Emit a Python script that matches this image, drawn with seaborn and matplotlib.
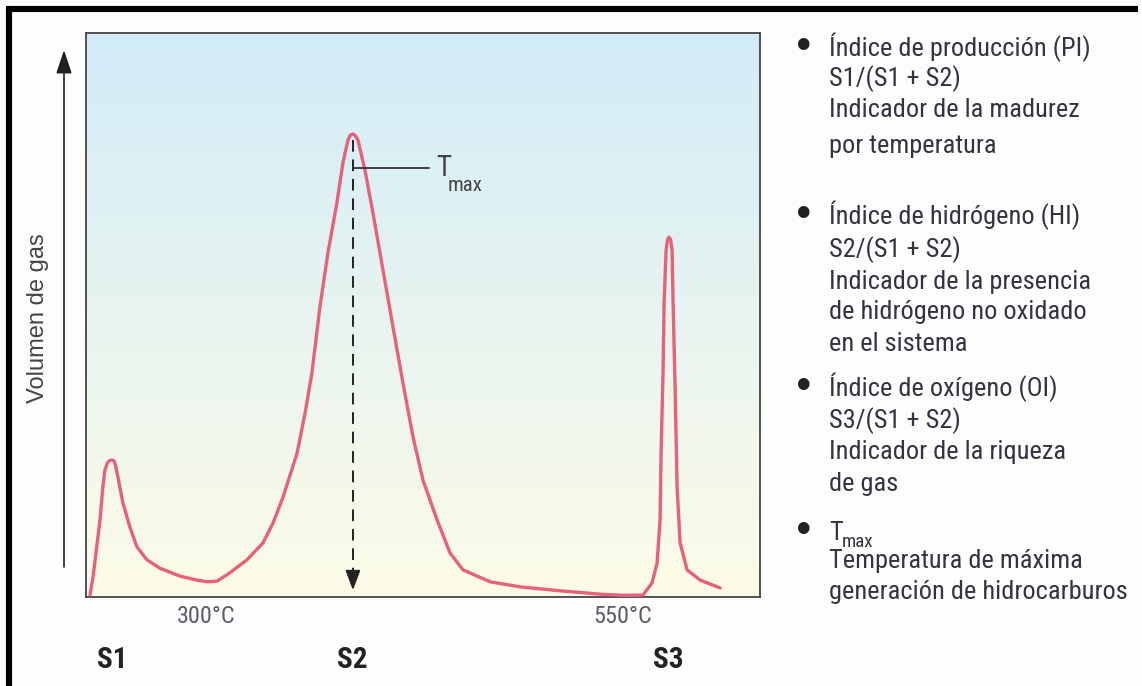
import numpy as np
import pandas as pd
import matplotlib
matplotlib.use('Agg')
import matplotlib.pyplot as plt
import seaborn as sns
from matplotlib import font_manager
from matplotlib.lines import Line2D
from matplotlib.transforms import blended_transform_factory

# pyrolysis curve (temperature in C, gas volume in % of frame)
temp_c = [230.5, 232.3, 236.5, 238.2, 239.4, 241.2, 242.4, 243.6, 244.6, 245.4, 247.2, 250.2,
          254.4, 258.6, 264.6, 272.4, 284.4, 294.6, 300.6, 306.6, 314.4, 324.6,
          334.2, 340.2, 346.2, 354.6, 359.4, 363.5, 368.3, 373.1, 378.5, 382.1,
          385.1, 386.6, 388.1, 389.6, 391.1, 395.3, 400.1, 406.1, 412.1, 418.1, 424.1, 430.1,
          438.5, 446.3, 454.1, 470.3, 488.2, 512.2, 536.2, 550.0, 562.0, 567.4,
          570.4, 572.2, 572.8, 574.0, 574.6, 575.8, 576.7, 577.6, 578.5, 579.4, 580.0, 581.2,
          582.4, 584.2, 588.4, 596.2, 608.2]
volume = [0.4, 3.5, 13.7, 19.5, 22.5, 23.9, 24.2, 24.3, 24.2, 23.8, 21.3, 16.7,
          12.4, 8.9, 6.6, 5.1, 3.7, 3.0, 2.7, 2.8, 4.3, 6.6,
          9.6, 13.1, 17.7, 25.5, 32.6, 39.7, 51.4, 61.0, 69.9, 77.0,
          81.0, 81.9, 82.1, 81.8, 81.0, 75.7, 68.1, 58.0, 47.9, 37.9, 28.4, 20.7,
          13.7, 7.8, 4.8, 2.7, 1.8, 1.1, 0.5, 0.3, 0.35, 2.5,
          6.0, 13.7, 25.5, 40.2, 52.1, 61.5, 63.4, 63.8, 63.4, 61.5, 52.1, 37.2,
          19.5, 9.6, 4.8, 3.0, 1.6]

tick_temps = [300, 550]
tick_labels = ['300°C', '550°C']
peak_names = ['S1', 'S2', 'S3']
peak_temps = [243.6, 387.5, 577.0]
tmax_temp = 388.1
tmax_level = 76.0

info_lines = ['Índice de producción (PI)', 'S1/(S1 + S2)', 'Indicador de la madurez', 'por temperatura',
              'Índice de hidrógeno (HI)', 'S2/(S1 + S2)', 'Indicador de la presencia',
              'de hidrógeno no oxidado', 'en el sistema',
              'Índice de oxígeno (OI)', 'S3/(S1 + S2)', 'Indicador de la riqueza', 'de gas',
              'Temperatura de máxima', 'generación de hidrocarburos']
info_y = [56, 86, 117, 153, 224, 257, 289, 319, 351, 396, 428, 459, 491, 568, 599]
bullet_y = [56, 224, 396, 540]

sns.set_style('white')
names = {f.name for f in font_manager.fontManager.ttflist}
cond = [n for n in ['Roboto Condensed', 'Liberation Sans Narrow', 'Open Sans Condensed']
        if n in names]
if cond:
    main_font, k = cond[0], 1.0
else:
    main_font, k = 'Liberation Sans', 0.89
plt.rcParams['font.family'] = [main_font, 'DejaVu Sans']

W, H = 1142, 686
fig = plt.figure(figsize=(W / 100, H / 100), dpi=100)
fig.patch.set_facecolor('#fdfdfd')

ax = fig.add_axes([86 / W, 89 / H, 674 / W, 564 / H])
xmin, xmax = 228.1, 632.1

# background gradient, light blue at top to pale yellow at bottom
top = np.array([210, 236, 248]) / 255
bot = np.array([253, 252, 232]) / 255
g = np.linspace(0, 1, 256)[:, None, None]
img = top + (bot - top) * g
ax.imshow(img, extent=[xmin, xmax, 0, 100], aspect='auto', origin='upper', zorder=0)

df = pd.DataFrame({'temp': temp_c, 'vol': volume})
sns.lineplot(data=df, x='temp', y='vol', color='#e8607a', lw=2.4, sort=False,
             estimator=None, ax=ax, zorder=3)
ax.lines[-1].set_solid_joinstyle('round')

# Tmax marker
ax.plot([tmax_temp, tmax_temp], [81.0, 4.5], ls=(0, (6, 4)), color='#222', lw=1.4, zorder=4)
ax.annotate('', xy=(tmax_temp, 1.2), xytext=(tmax_temp, 5.0),
            arrowprops=dict(arrowstyle='-|>,head_length=0.8,head_width=0.3', mutation_scale=15,
                            color='#222', lw=1.4, shrinkA=0, shrinkB=0), zorder=4)
ax.plot([tmax_temp, 433.5], [tmax_level, tmax_level], color='#333', lw=1.3, zorder=4)
ax.text(438.0, tmax_level, 'T', fontsize=21 * k, va='center', ha='left', color='#444')
ax.text(445.0, tmax_level - 3.0, 'max', fontsize=15 * k, va='center', ha='left', color='#444')

ax.set_xlim(xmin, xmax)
ax.set_ylim(0, 100)
ax.set_xticks(tick_temps, tick_labels)
ax.set_yticks([])
ax.tick_params(axis='x', direction='in', length=7, width=1.3, color='#333',
               labelsize=17.5 * k, labelcolor='#5a5e6a', pad=6)
ax.set_xlabel('')
ax.set_ylabel('')
for sp in ax.spines.values():
    sp.set_visible(True)
    sp.set_color('#444')
    sp.set_linewidth(1.3)

# S1 / S2 / S3 labels under the axis
tr = blended_transform_factory(ax.transData, fig.transFigure)
for name, t in zip(peak_names, peak_temps):
    ax.text(t, 1 - 660 / H, name, transform=tr, ha='center', va='center',
            fontsize=21 * k, fontweight='bold', color='#222')

# y arrow and label
ax.annotate('', xy=(64 / W, 1 - 50 / H), xytext=(64 / W, 1 - 567 / H),
            xycoords='figure fraction', textcoords='figure fraction',
            arrowprops=dict(arrowstyle='-|>,head_length=0.9,head_width=0.3', mutation_scale=16,
                            color='#222', lw=1.2, shrinkA=0, shrinkB=0),
            annotation_clip=False)
fig.text(38 / W, 1 - 318 / H, 'Volumen de gas', rotation=90, ha='center', va='center',
         fontsize=17, color='#444', family=['Liberation Sans', 'DejaVu Sans'])

# right-hand notes
txt_color = '#33343f'
fs = 19 * k
for line, y in zip(info_lines, info_y):
    fig.text(829 / W, 1 - y / H, line, ha='left', va='baseline', fontsize=fs, color=txt_color)
for y in bullet_y:
    fig.text(804 / W, 1 - (y + 3) / H, '•', ha='center', va='baseline', fontsize=fs * 1.5,
             color='#222', family=['DejaVu Sans'])
fig.text(829 / W, 1 - 540 / H, 'T', ha='left', va='baseline', fontsize=fs, color=txt_color)
fig.text(842 / W, 1 - 547 / H, 'max', ha='left', va='baseline', fontsize=fs * 0.72, color=txt_color)

# black frame at top and left
fig.add_artist(Line2D([6 / W, 1138 / W], [1 - 9 / H, 1 - 9 / H], transform=fig.transFigure,
                      color='black', lw=4.4, solid_capstyle='butt'))
fig.add_artist(Line2D([9 / W, 9 / W], [0, 1 - 6 / H], transform=fig.transFigure,
                      color='black', lw=4.4, solid_capstyle='butt'))

fig.savefig('out.png', dpi=100, facecolor=fig.get_facecolor())
